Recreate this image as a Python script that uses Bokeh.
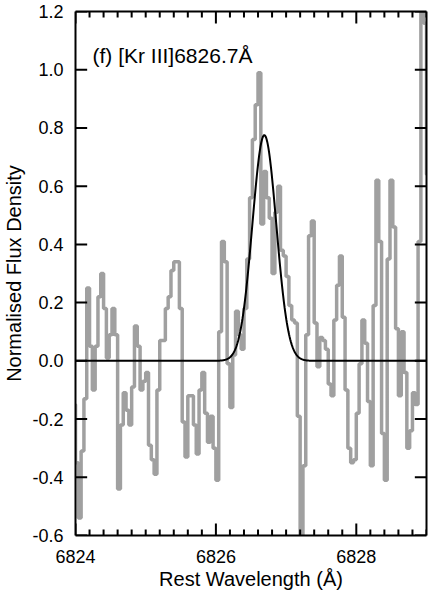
import numpy as np
from bokeh.plotting import figure
from bokeh.models import (LinearAxis, Range1d, Label, FixedTicker, Arrow,
                          NumeralTickFormatter, CustomJSTickFormatter, ColumnDataSource)
from bokeh.embed import file_html
from bokeh.resources import INLINE

# ---- data -------------------------------------------------------------
wavelength = [
    6823.98, 6824.02, 6824.06, 6824.10, 6824.14, 6824.18, 6824.22, 6824.26, 6824.30, 6824.34,
    6824.38, 6824.42, 6824.46, 6824.50, 6824.54, 6824.58, 6824.62, 6824.66, 6824.70, 6824.74,
    6824.78, 6824.82, 6824.86, 6824.90, 6824.94, 6824.98, 6825.02, 6825.06, 6825.10, 6825.14,
    6825.18, 6825.22, 6825.26, 6825.30, 6825.34, 6825.38, 6825.42, 6825.46, 6825.50, 6825.54,
    6825.58, 6825.62, 6825.66, 6825.70, 6825.74, 6825.78, 6825.82, 6825.86, 6825.90, 6825.94,
    6825.98, 6826.02, 6826.06, 6826.10, 6826.14, 6826.18, 6826.22, 6826.26, 6826.30, 6826.34,
    6826.38, 6826.42, 6826.46, 6826.50, 6826.54, 6826.58, 6826.62, 6826.66, 6826.70, 6826.74,
    6826.78, 6826.82, 6826.86, 6826.90, 6826.94, 6826.98, 6827.02, 6827.06, 6827.10, 6827.14,
    6827.18, 6827.22, 6827.26, 6827.30, 6827.34, 6827.38, 6827.42, 6827.46, 6827.50, 6827.54,
    6827.58, 6827.62, 6827.66, 6827.70, 6827.74, 6827.78, 6827.82, 6827.86, 6827.90, 6827.94,
    6827.98, 6828.02, 6828.06, 6828.10, 6828.14, 6828.18, 6828.22, 6828.26, 6828.30, 6828.34,
    6828.38, 6828.42, 6828.46, 6828.50, 6828.54, 6828.58, 6828.62, 6828.66, 6828.70, 6828.74,
    6828.78, 6828.82, 6828.86, 6828.90, 6828.94, 6828.98, 6829.02,
]
flux = [
    -0.15, -0.35, -0.54, -0.31, -0.13, 0.25, 0.05, -0.10, 0.05, 0.22,
    0.30, 0.18, 0.01, 0.09, 0.18, 0.09, -0.44, -0.22, -0.11, -0.17,
    -0.22, -0.09, 0.12, 0.05, -0.10, -0.07, -0.04, -0.29, -0.34, -0.39,
    -0.10, 0.07, 0.07, 0.18, 0.22, 0.31, 0.34, 0.34, 0.18, -0.21,
    -0.33, -0.12, -0.12, -0.22, -0.32, -0.10, -0.04, -0.18, -0.28, -0.19,
    -0.30, -0.41, 0.10, 0.41, 0.34, -0.01, -0.16, 0.02, 0.17, 0.09,
    0.04, 0.18, 0.35, 0.56, 0.76, 0.88, 0.99, 0.47, 0.65, 0.56,
    0.49, 0.30, 0.51, 0.60, 0.38, 0.36, 0.29, 0.19, 0.14, 0.13,
    -0.19, -0.65, -0.36, 0.09, 0.43, 0.48, 0.13, -0.02, 0.08, 0.07,
    0.04, -0.08, -0.12, 0.14, 0.26, 0.36, 0.15, -0.10, -0.30, -0.35,
    -0.34, -0.18, -0.01, 0.14, 0.06, -0.14, -0.36, 0.19, 0.62, 0.41,
    -0.25, -0.41, 0.35, 0.62, 0.46, 0.11, -0.12, 0.10, -0.04, -0.30,
    -0.24, -0.11, -0.15, 0.41, 1.25, 1.16, 0.64,
]

# Gaussian fit parameters
fit_center = 6826.69
fit_amplitude = 0.775
fit_sigma = 0.17

x_major_ticks = [6824, 6826, 6828]
y_major_ticks = [-0.6, -0.4, -0.2, 0.0, 0.2, 0.4, 0.6, 0.8, 1.0, 1.2]
title_text = "(f) [Kr III]6826.7Å"

X0, X1 = 6824, 6829
Y0, Y1 = -0.6, 1.2
x_minor_ticks = [round(X0 + 0.2 * i, 1) for i in range(26)]

# ---- figure -----------------------------------------------------------
FONT = "Liberation Sans"
W, H = 432, 592
BL, BR, BT, BB = 66, 5, 11, 55
FW, FH = W - BL - BR, H - BT - BB   # expected frame size (px)

p = figure(width=W, height=H,
           x_range=Range1d(X0, X1), y_range=Range1d(Y0, Y1),
           output_backend="svg", toolbar_location=None,
           min_border_left=BL, min_border_right=BR,
           min_border_top=BT, min_border_bottom=BB,
           background_fill_color="white", border_fill_color="white")
p.grid.visible = False
p.outline_line_color = None

p.step(wavelength, flux, mode="center", line_color="#a0a0a0", line_width=3.5)

fit_x = np.linspace(X0, X1, 800)
fit_y = fit_amplitude * np.exp(-0.5 * ((fit_x - fit_center) / fit_sigma) ** 2)
p.line(fit_x, fit_y, line_color="black", line_width=2)

# inward ticks on all four sides, drawn as head-less arrow annotations
px_x = (X1 - X0) / FW
px_y = (Y1 - Y0) / FH
MAJ, MIN = 12, 6
t0x, t0y, t1x, t1y = [], [], [], []
for t in x_minor_ticks:
    L = MAJ if t in x_major_ticks else MIN
    t0x += [t, t]
    t1x += [t, t]
    t0y += [Y0, Y1]
    t1y += [Y0 + L * px_y, Y1 - L * px_y]
for t in y_major_ticks:
    t0x += [X0, X1]
    t1x += [X0 + MAJ * px_x, X1 - MAJ * px_x]
    t0y += [t, t]
    t1y += [t, t]
tick_src = ColumnDataSource(dict(x0=t0x, y0=t0y, x1=t1x, y1=t1y))
p.add_layout(Arrow(start=None, end=None, x_start="x0", y_start="y0",
                   x_end="x1", y_end="y1", source=tick_src,
                   line_color="black", line_width=2))


def style_axis(ax):
    ax.axis_line_width = 2
    ax.axis_line_color = "black"
    ax.major_tick_line_color = None
    ax.minor_tick_line_color = None
    ax.major_label_text_font = FONT
    ax.major_label_text_font_size = "18px"
    ax.major_label_text_color = "black"
    ax.axis_label_text_font = FONT
    ax.axis_label_text_font_size = "20px"
    ax.axis_label_text_font_style = "normal"
    ax.axis_label_text_color = "black"


xa = p.xaxis[0]
style_axis(xa)
xa.ticker = FixedTicker(ticks=x_major_ticks)
xa.axis_label = "Rest Wavelength (Å)"
xa.major_label_standoff = 8
xa.axis_label_standoff = 2

ya = p.yaxis[0]
style_axis(ya)
ya.ticker = FixedTicker(ticks=y_major_ticks)
ya.formatter = NumeralTickFormatter(format="0.0")
ya.axis_label = "Normalised Flux Density"
ya.major_label_standoff = 6
ya.axis_label_standoff = 4

blank = CustomJSTickFormatter(code="return ''")
top = LinearAxis(ticker=FixedTicker(ticks=x_major_ticks), formatter=blank)
style_axis(top)
top.major_label_text_font_size = "0px"
top.major_label_standoff = 0
p.add_layout(top, "above")

right = LinearAxis(ticker=FixedTicker(ticks=y_major_ticks), formatter=blank)
style_axis(right)
right.major_label_text_font_size = "0px"
right.major_label_standoff = 0
p.add_layout(right, "right")

p.add_layout(Label(x=17, y=FH - 46, x_units="screen", y_units="screen",
                   text=title_text, text_font=FONT, text_font_size="21px",
                   text_color="black", text_baseline="alphabetic"))

open("out.html", "w").write(file_html(p, INLINE))
